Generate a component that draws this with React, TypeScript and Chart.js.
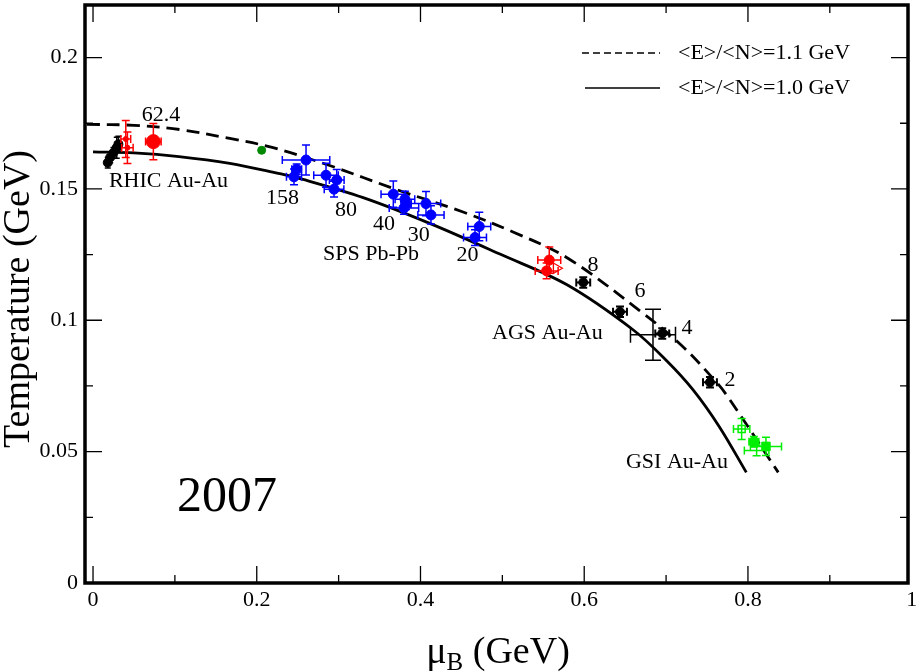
import React, { useEffect, useRef } from 'react';
import { Chart, registerables } from 'chart.js';

Chart.register(...registerables);

const SERIF = '"Liberation Serif", "Times New Roman", Times, serif';

// ---- axes ----
const xMin = -0.0098;
const xMax = 0.9955;
const yMin = 0;
const yMax = 0.22;
const xTickValues = [0, 0.2, 0.4, 0.6, 0.8, 1];
const xMinorValues = [0.1, 0.3, 0.5, 0.7, 0.9];
const yTickValues = [0, 0.05, 0.1, 0.15, 0.2];
const yMinorValues = [0.025, 0.075, 0.125, 0.175];
const xTitleMain = 'μ';
const xTitleSub = 'B';
const xTitleUnit = ' (GeV)';
const yTitle = 'Temperature (GeV)';

// ---- freeze-out curves ----
const curve11Label = '<E>/<N>=1.1 GeV';
const curve11Mu = [-0.0077, 0.05, 0.106, 0.167, 0.22, 0.289, 0.371, 0.452, 0.513, 0.579, 0.668, 0.717, 0.757, 0.774, 0.837];
const curve11T = [0.1746, 0.1742, 0.1726, 0.1692, 0.1657, 0.1589, 0.1497, 0.1412, 0.1336, 0.1238, 0.1036, 0.091, 0.078, 0.0715, 0.0421];
const curve10Label = '<E>/<N>=1.0 GeV';
const curve10Mu = [0, 0.05, 0.105, 0.167, 0.228, 0.249, 0.33, 0.412, 0.497, 0.579, 0.66, 0.701, 0.733, 0.765, 0.798];
const curve10T = [0.1641, 0.1637, 0.1623, 0.1597, 0.1558, 0.1543, 0.1467, 0.1368, 0.1252, 0.1135, 0.0963, 0.0845, 0.0735, 0.0595, 0.0421];

// ---- data points: [muB, T, dMuB, dT] ----
const rhicBlack = [
  [0.018, 0.16, 0.003, 0.002],
  [0.021, 0.162, 0.003, 0.002],
  [0.025, 0.1638, 0.003, 0.002],
  [0.029, 0.1657, 0.004, 0.004],
  [0.031, 0.167, 0.004, 0.003],
];
const rhicRedSmall = [
  [0.04, 0.169, 0.006, 0.007],
  [0.042, 0.1657, 0.007, 0.006],
];
const rhicRed624 = [[0.0737, 0.168, 0.0095, 0.0069]];
const greenPoint = [[0.206, 0.1647, 0, 0]];
const spsBlue = [
  [0.2455, 0.1546, 0.0092, 0.003],
  [0.2488, 0.1575, 0.006, 0.002],
  [0.2602, 0.161, 0.029, 0.0057],
  [0.2846, 0.1552, 0.015, 0.0046],
  [0.2977, 0.1534, 0.009, 0.004],
  [0.2944, 0.1499, 0.012, 0.003],
  [0.3668, 0.148, 0.015, 0.005],
  [0.381, 0.1461, 0.012, 0.003],
  [0.3823, 0.1442, 0.006, 0.002],
  [0.3798, 0.1427, 0.018, 0.0023],
  [0.4067, 0.1444, 0.018, 0.0046],
  [0.4128, 0.1401, 0.016, 0.0035],
  [0.4718, 0.1357, 0.014, 0.0054],
  [0.4666, 0.1315, 0.014, 0.003],
];
const agsRed = [
  [0.5573, 0.1229, 0.014, 0.005],
  [0.5541, 0.1188, 0.014, 0.003],
];
const agsRedTriangle = [[0.566, 0.1198, 0, 0]];
const agsBlack = [
  [0.5988, 0.1144, 0.0085, 0.002],
  [0.6437, 0.1032, 0.0085, 0.002],
  [0.6953, 0.095, 0.0085, 0.002],
  [0.7536, 0.0764, 0.0085, 0.002],
];
const agsBigError = [[0.684, 0.0945, 0.0275, 0.0097]];
const gsiOpen = [[0.7923, 0.0586, 0.01, 0.004]];
const gsiFilledCircle = [[0.8073, 0.0538, 0.006, 0.002]];
const gsiFilledSquare = [[0.822, 0.052, 0.019, 0.0035]];
const gsiBarsOnly = [[0.8106, 0.0504, 0.015, 0.002]];

// ---- text labels anchored in data units ----
const annotationTexts = ['62.4', 'RHIC Au-Au', '158', '80', '40', '30', 'SPS Pb-Pb', '20', '8', '6', '4', 'AGS Au-Au', '2', 'GSI Au-Au'];
const annotationMu = [0.083, 0.0922, 0.2315, 0.309, 0.3554, 0.398, 0.3395, 0.4574, 0.6107, 0.668, 0.7255, 0.555, 0.778, 0.7133];
const annotationT = [0.178, 0.153, 0.1466, 0.142, 0.1367, 0.1325, 0.1253, 0.1249, 0.1211, 0.1112, 0.0971, 0.0949, 0.077, 0.0458];
const yearText = '2007';
const yearMu = 0.1637;
const yearT = 0.0325;

const RED = '#ff0000';
const BLUE = '#0000ff';
const BLACK = '#000000';
const LIME = '#00ee00';
const DARKGREEN = '#008800';

function pointSet(rows: number[][], color: string, extra: any = {}) {
  return {
    type: 'scatter',
    data: rows.map((r) => ({ x: r[0], y: r[1] })),
    errors: rows.map((r) => [r[2], r[3]]),
    errColor: extra.errColor || color,
    cap: extra.cap ?? 4,
    errWidth: extra.errWidth ?? 1.5,
    backgroundColor: extra.fill ?? color,
    borderColor: color,
    borderWidth: extra.borderWidth ?? 1,
    pointRadius: extra.radius ?? 5,
    pointStyle: extra.style ?? 'circle',
    rotation: extra.rotation ?? 0,
    showLine: false,
    order: 0,
  };
}

function curveSet(mu: number[], t: number[], dash: number[]) {
  return {
    type: 'line',
    data: mu.map((m, i) => ({ x: m, y: t[i] })),
    borderColor: BLACK,
    borderWidth: 2.8,
    borderDash: dash,
    pointRadius: 0,
    fill: false,
    showLine: true,
    tension: 0.35,
    order: 10,
  };
}

const decorPlugin = {
  id: 'decor',
  beforeDatasetDraw(chart: any, args: any) {
    const ds = chart.data.datasets[args.index];
    if (!ds.errors) return;
    const { ctx, chartArea: ca } = chart;
    const x = chart.scales.x;
    const y = chart.scales.y;
    ctx.save();
    ctx.beginPath();
    ctx.rect(ca.left, ca.top, ca.right - ca.left, ca.bottom - ca.top);
    ctx.clip();
    ctx.strokeStyle = ds.errColor;
    ctx.lineWidth = ds.errWidth;
    const cap = ds.cap;
    ds.data.forEach((p: any, k: number) => {
      const [dx, dy] = ds.errors[k];
      const cx = x.getPixelForValue(p.x);
      const cy = y.getPixelForValue(p.y);
      ctx.beginPath();
      if (dx > 0) {
        const a = x.getPixelForValue(p.x - dx);
        const b = x.getPixelForValue(p.x + dx);
        ctx.moveTo(a, cy); ctx.lineTo(b, cy);
        ctx.moveTo(a, cy - cap); ctx.lineTo(a, cy + cap);
        ctx.moveTo(b, cy - cap); ctx.lineTo(b, cy + cap);
      }
      if (dy > 0) {
        const a = y.getPixelForValue(p.y - dy);
        const b = y.getPixelForValue(p.y + dy);
        ctx.moveTo(cx, a); ctx.lineTo(cx, b);
        ctx.moveTo(cx - cap, a); ctx.lineTo(cx + cap, a);
        ctx.moveTo(cx - cap, b); ctx.lineTo(cx + cap, b);
      }
      ctx.stroke();
    });
    ctx.restore();
  },
  afterDraw(chart: any) {
    const { ctx, chartArea: ca } = chart;
    const x = chart.scales.x;
    const y = chart.scales.y;
    ctx.save();
    ctx.strokeStyle = BLACK;
    ctx.lineWidth = 1.3;
    const major = 17;
    const minor = 8;
    ctx.beginPath();
    xTickValues.forEach((v) => {
      const px = x.getPixelForValue(v);
      if (px > ca.right) return;
      ctx.moveTo(px, ca.bottom); ctx.lineTo(px, ca.bottom - major);
      ctx.moveTo(px, ca.top); ctx.lineTo(px, ca.top + major);
    });
    xMinorValues.forEach((v) => {
      const px = x.getPixelForValue(v);
      ctx.moveTo(px, ca.bottom); ctx.lineTo(px, ca.bottom - minor);
      ctx.moveTo(px, ca.top); ctx.lineTo(px, ca.top + minor);
    });
    yTickValues.forEach((v) => {
      const py = y.getPixelForValue(v);
      ctx.moveTo(ca.left, py); ctx.lineTo(ca.left + major, py);
      ctx.moveTo(ca.right, py); ctx.lineTo(ca.right - major, py);
    });
    yMinorValues.forEach((v) => {
      const py = y.getPixelForValue(v);
      ctx.moveTo(ca.left, py); ctx.lineTo(ca.left + minor, py);
      ctx.moveTo(ca.right, py); ctx.lineTo(ca.right - minor, py);
    });
    ctx.stroke();
    ctx.lineWidth = 3.5;
    ctx.strokeRect(ca.left, ca.top, ca.right - ca.left, ca.bottom - ca.top);

    // legend
    ctx.lineWidth = 1.5;
    ctx.setLineDash([7, 4]);
    ctx.beginPath();
    ctx.moveTo(582, 53); ctx.lineTo(660, 53);
    ctx.stroke();
    ctx.setLineDash([]);
    ctx.beginPath();
    ctx.moveTo(585, 88); ctx.lineTo(660, 88);
    ctx.stroke();
    ctx.fillStyle = BLACK;
    ctx.font = `22px ${SERIF}`;
    ctx.textAlign = 'left';
    ctx.textBaseline = 'middle';
    ctx.fillText(curve11Label, 678, 53);
    ctx.fillText(curve10Label, 678, 88);

    // annotations
    ctx.textAlign = 'center';
    annotationTexts.forEach((t, i) => {
      ctx.fillText(t, x.getPixelForValue(annotationMu[i]), y.getPixelForValue(annotationT[i]));
    });
    ctx.font = `50px ${SERIF}`;
    ctx.fillText(yearText, x.getPixelForValue(yearMu), y.getPixelForValue(yearT));

    // y title
    ctx.save();
    ctx.translate(29, 299);
    ctx.rotate(-Math.PI / 2);
    ctx.font = `38px ${SERIF}`;
    ctx.textAlign = 'center';
    ctx.textBaseline = 'alphabetic';
    ctx.fillText(yTitle, 0, 0);
    ctx.restore();

    // x title with subscript
    ctx.textAlign = 'left';
    ctx.textBaseline = 'alphabetic';
    ctx.font = `38px ${SERIF}`;
    const wMain = ctx.measureText(xTitleMain).width;
    ctx.font = `25px ${SERIF}`;
    const wSub = ctx.measureText(xTitleSub).width;
    ctx.font = `38px ${SERIF}`;
    const wUnit = ctx.measureText(xTitleUnit).width;
    const total = wMain + wSub + wUnit;
    let sx = 498 - total / 2;
    const base = 663;
    ctx.fillText(xTitleMain, sx, base);
    sx += wMain;
    ctx.font = `25px ${SERIF}`;
    ctx.fillText(xTitleSub, sx, base + 7);
    sx += wSub;
    ctx.font = `38px ${SERIF}`;
    ctx.fillText(xTitleUnit, sx, base);
    ctx.restore();
  },
};

export default function App() {
  const ref = useRef<HTMLCanvasElement>(null);
  useEffect(() => {
    const canvas = ref.current;
    if (!canvas) return;
    const datasets: any[] = [
      pointSet(rhicRed624, RED, { radius: 7 }),
      pointSet(rhicRedSmall, RED, { radius: 2.5 }),
      pointSet(rhicBlack, BLACK, { radius: 4.5, cap: 3 }),
      pointSet(greenPoint, DARKGREEN, { radius: 4 }),
      pointSet(spsBlue, BLUE, { radius: 5 }),
      pointSet(agsRed, RED, { radius: 5 }),
      pointSet(agsRedTriangle, RED, { radius: 6, style: 'triangle', rotation: 90, fill: 'rgba(0,0,0,0)', borderWidth: 1.3 }),
      pointSet(agsBlack, BLACK, { radius: 4.5, cap: 4, errWidth: 2 }),
      pointSet(agsBigError, BLACK, { radius: 0, cap: 8, errWidth: 1.5 }),
      pointSet(gsiOpen, LIME, { radius: 5, style: 'rect', fill: 'rgba(0,0,0,0)', borderWidth: 1.5 }),
      pointSet(gsiFilledCircle, LIME, { radius: 5 }),
      pointSet(gsiFilledSquare, LIME, { radius: 6, style: 'rect' }),
      pointSet(gsiBarsOnly, LIME, { radius: 0 }),
      curveSet(curve11Mu, curve11T, [13, 7]),
      curveSet(curve10Mu, curve10T, []),
    ];
    const chart = new Chart(canvas, {
      type: 'scatter',
      data: { datasets },
      options: {
        animation: false,
        responsive: false,
        maintainAspectRatio: false,
        events: [],
        layout: { autoPadding: false, padding: { top: 5, right: 10, left: 0, bottom: 0 } },
        plugins: { legend: { display: false }, tooltip: { enabled: false }, title: { display: false } },
        scales: {
          x: {
            type: 'linear',
            min: xMin,
            max: xMax,
            afterBuildTicks: (s: any) => { s.ticks = xTickValues.map((v) => ({ value: v })); },
            afterFit: (s: any) => { s.height = 89; s.paddingLeft = 0; s.paddingRight = 0; },
            grid: { display: false, drawTicks: false },
            border: { display: false },
            ticks: {
              font: { family: SERIF, size: 22 },
              color: BLACK,
              padding: 4,
              maxRotation: 0,
              autoSkip: false,
              callback: (v: any) => String(v),
            },
          },
          y: {
            type: 'linear',
            min: yMin,
            max: yMax,
            afterBuildTicks: (s: any) => { s.ticks = yTickValues.map((v) => ({ value: v })); },
            afterFit: (s: any) => { s.width = 85; s.paddingTop = 0; s.paddingBottom = 0; },
            grid: { display: false, drawTicks: false },
            border: { display: false },
            ticks: {
              font: { family: SERIF, size: 22 },
              color: BLACK,
              padding: 7,
              autoSkip: false,
              callback: (v: any) => String(v),
            },
          },
        },
      } as any,
      plugins: [decorPlugin],
    } as any);
    return () => chart.destroy();
  }, []);
  return (
    <div style={{ position: 'fixed', left: 0, top: 0, width: 918, height: 672, background: '#fff' }}>
      <canvas ref={ref} width={918} height={672} style={{ display: 'block', width: 918, height: 672 }} />
    </div>
  );
}
